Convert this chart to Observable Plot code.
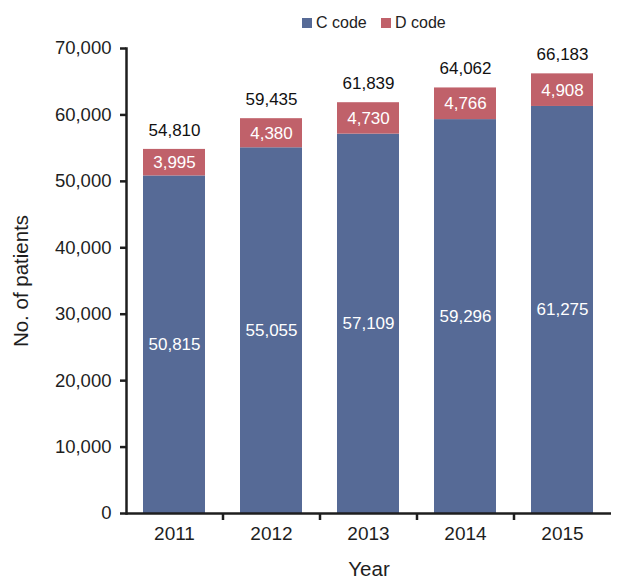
<!DOCTYPE html>
<html>
<head>
<meta charset="utf-8">
<script src="https://cdn.jsdelivr.net/npm/d3@7"></script>
<script src="https://cdn.jsdelivr.net/npm/@observablehq/plot@0.6"></script>
<style>
  html, body { margin: 0; padding: 0; background: #fff; }
  body { width: 640px; height: 584px; overflow: hidden; font-family: "Liberation Sans", Arial, sans-serif; }
  #legend { height: 36px; position: relative; }
  .item { position: absolute; top: 14px; display: flex; align-items: center; font-size: 16px; color: #222; }
  .sw { width: 10px; height: 10px; margin-right: 4px; }
  #chart svg { display: block; }
</style>
</head>
<body>
<div id="legend"></div>
<div id="chart"></div>
<script>
const years = ["2011", "2012", "2013", "2014", "2015"];
const cCode = [50815, 55055, 57109, 59296, 61275];
const dCode = [3995, 4380, 4730, 4766, 4908];
const totals = [54810, 59435, 61839, 64062, 66183];
const series = ["C code", "D code"];
const colors = ["#566a96", "#c0616a"];
const yTicks = [0, 10000, 20000, 30000, 40000, 50000, 60000, 70000];

const rows = years.flatMap((y, i) => [
  {year: y, code: series[0], value: cCode[i]},
  {year: y, code: series[1], value: dCode[i]}
]);
const totalRows = years.map((y, i) => ({year: y, total: totals[i]}));
const fmt = d3.format(",");

// legend
const legend = document.getElementById("legend");
const lx = [302, 381];
series.forEach((s, i) => {
  const it = document.createElement("div");
  it.className = "item";
  it.style.left = lx[i] + "px";
  it.innerHTML = `<span class="sw" style="background:${colors[i]}"></span><span>${s}</span>`;
  legend.appendChild(it);
});

const ink = "#1e1e1e";
const plot = Plot.plot({
  width: 640,
  height: 548,
  marginTop: 12,
  marginBottom: 71,
  marginLeft: 126,
  marginRight: 29,
  style: {fontFamily: '"Liberation Sans", Arial, sans-serif', color: ink, background: "#fff"},
  x: {domain: years, paddingInner: 0.36, paddingOuter: 0.18},
  y: {domain: [0, 70000]},
  color: {domain: series, range: colors},
  marks: [
    Plot.barY(rows, {x: "year", y: "value", fill: "code"}),
    Plot.text(rows, Plot.stackY({x: "year", y: "value", text: d => fmt(d.value), fill: "white", fontSize: 17})),
    Plot.text(totalRows, {x: "year", y: "total", text: d => fmt(d.total), dy: -19, fill: "#111", fontSize: 17}),
    Plot.axisY({ticks: yTicks, tickFormat: fmt, tickSize: 6, tickPadding: 9, fontSize: 18.5, stroke: ink, strokeWidth: 2.5,
      label: "No. of patients", labelAnchor: "center", labelOffset: 113, labelArrow: "none"}),
    Plot.axisX({tickSize: 0, tickPadding: 13, fontSize: 19, label: "Year", labelAnchor: "center", labelOffset: 62, labelArrow: "none"}),
    Plot.ruleY([0], {stroke: ink, strokeWidth: 2.5}),
    Plot.frame({anchor: "left", stroke: ink, strokeWidth: 2.5}),
    Plot.ruleX(years.slice(1), {x: d => d, dx: -48.5, y1: 0, y2: 0, insetBottom: -7, stroke: ink, strokeWidth: 2.5})
  ]
});
document.getElementById("chart").appendChild(plot);
// axis titles slightly larger than tick labels, as in the reference
plot.querySelectorAll("g[aria-label='y-axis label'] text, g[aria-label='x-axis label'] text").forEach(t => t.setAttribute("font-size", "20.5"));
</script>
</body>
</html>
